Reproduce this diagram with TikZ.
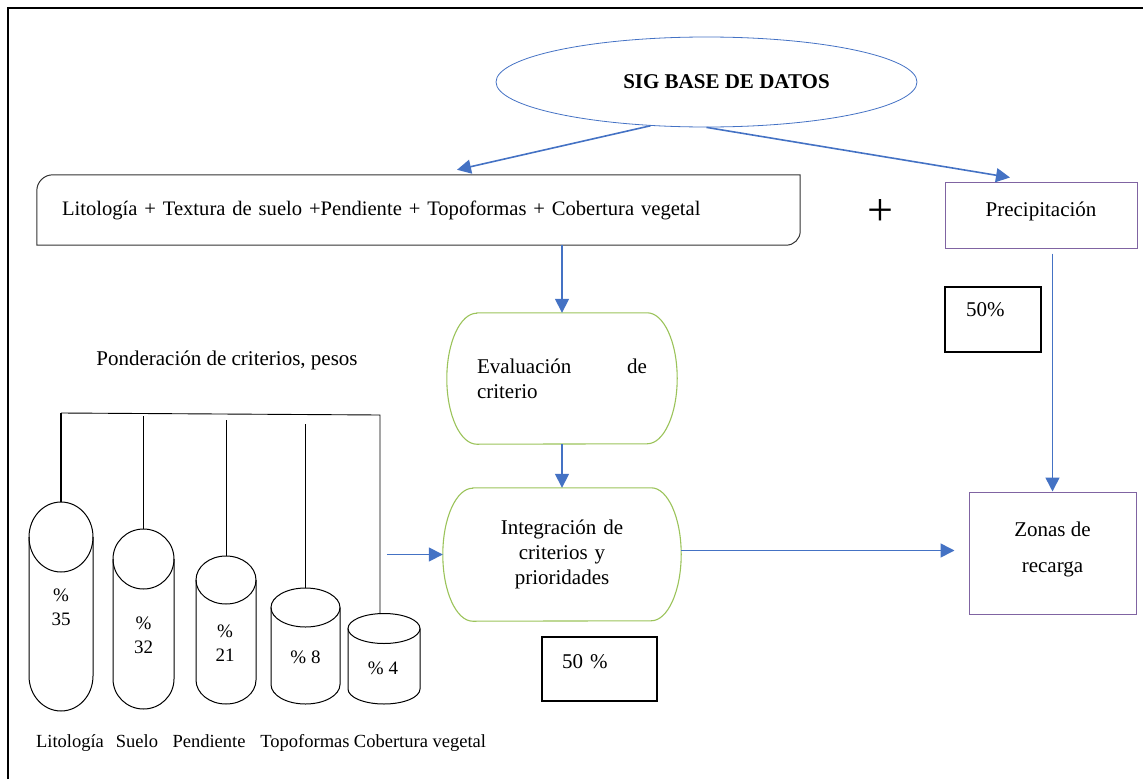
\documentclass[tikz,border=0pt]{standalone}
\usepackage{fontspec}
\setmainfont{Liberation Serif}
\usepackage{xcolor}
\usetikzlibrary{shapes.geometric,arrows.meta}
\definecolor{azul}{RGB}{68,114,196}
\definecolor{verde}{RGB}{155,195,90}
\definecolor{morado}{RGB}{128,100,162}
\definecolor{gris}{RGB}{50,50,50}

\begin{document}
\begin{tikzpicture}[x=1pt,y=-1pt,
  font=\fontsize{21}{25}\selectfont,
  every node/.style={inner sep=0pt},
  flecha/.style={azul,line width=1.6pt,-{Triangle[length=14pt,width=14pt]}},
  caja/.style={draw=morado,line width=1pt,align=center},
  cuadro/.style={draw=black,line width=1.2pt,align=left,text width=54pt,inner xsep=21pt},
  term/.style={text width=170pt,inner xsep=30pt,align=justify,
    execute at begin node={\hyphenpenalty=10000\tolerance=10000}},
  verdeborde/.style={verde,line width=1.1pt},
  linea/.style={black,line width=0.9pt},
  cil/.style={black,line width=1pt},
  rotulo/.style={font=\fontsize{18.5}{22}\selectfont,anchor=base},
  pct/.style={font=\fontsize{19}{24}\selectfont,align=center}]
\useasboundingbox (0,0) rectangle (1143,779);
\draw [line width=2pt] (8,779) -- (8,8) -- (1143,8);

% base de datos y capas
\node [ellipse,draw=azul,line width=0.8pt,minimum width=421pt,minimum height=90pt] (sig) at (706.5,82) {\hspace*{40pt}\textbf{SIG BASE DE DATOS}};
\node [text width=713pt,inner xsep=25pt,minimum height=70pt,align=left,font=\fontsize{20.6}{25}\selectfont] (capas) at (418.5,210) {Litología + Textura de suelo +Pendiente + Topoformas + Cobertura vegetal};
\draw [gris,line width=1pt] (capas.south west) -- ([yshift=-16pt]capas.north west) arc [start angle=180,end angle=90,radius=16pt] -- (capas.north east) -- ([yshift=14pt]capas.south east) arc [start angle=0,end angle=-90,radius=14pt] -- cycle;
\node [font=\fontsize{46}{46}\selectfont] (mas) at (880,213) {+};
\node [caja,minimum width=192pt,minimum height=66pt,text depth=12pt] (precip) at (1041,215) {Precipitación};
\node [cuadro,minimum height=65pt,text depth=19pt] (p50a) at (993,319.5) {50\%};

% evaluacion e integracion
\node [term,minimum width=230pt,minimum height=131pt] (eval) at (562,378.5) {Evaluación de criterio};
\draw [verdeborde] ([xshift=30pt]eval.north west) -- ([xshift=-30pt]eval.north east) arc [start angle=90,end angle=-90,x radius=30pt,y radius=65.5pt] -- ([xshift=30pt]eval.south west) arc [start angle=270,end angle=90,x radius=30pt,y radius=65.5pt] -- cycle;
\node [term,align=center,minimum width=238pt,minimum height=133pt] (integ) at (562,554.5) {Integración de\\criterios y\\prioridades};
\draw [verdeborde] ([xshift=30pt]integ.north west) -- ([xshift=-30pt]integ.north east) arc [start angle=90,end angle=-90,x radius=30pt,y radius=66.5pt] -- ([xshift=30pt]integ.south west) arc [start angle=270,end angle=90,x radius=30pt,y radius=66.5pt] -- cycle;
\node [cuadro,text width=75pt,inner xsep=20pt,minimum height=64pt,text depth=14pt] (p50b) at (599.5,669) {50 \%};
\node [caja,minimum width=167pt,minimum height=122pt,text depth=12pt] (zonas) at (1052.5,553) {Zonas de\\[11pt]recarga};

% flechas
\draw [flecha] (sig.218) -- ([xshift=38.5pt,yshift=5pt]capas.north);
\draw [flecha] (sig.south) -- ([xshift=-31pt,yshift=4pt]precip.north);
\draw [flecha] (capas.south -| eval.north) -- (eval.north);
\draw [flecha] (eval.south) -- (integ.north);
\draw [flecha] ([xshift=-56pt]integ.west) -- (integ.west);
\draw [flecha,shorten >=14pt] ([yshift=4pt]integ.east) -- ([yshift=4pt]integ.east -| zonas.west);
\draw [flecha,shorten <=5pt] (zonas.north |- precip.south) -- (zonas.north);

% pesos
\node (pond) at (227,360) {Ponderación de criterios, pesos};

% Litologia
\draw [cil] (29,537) -- (29,676) arc [start angle=180,end angle=360,x radius=32pt,y radius=35pt] -- (93,537);
\draw [cil] (61,537) ellipse [x radius=32pt,y radius=35pt];
\node [pct] (c35) at (61,607) {\%\\35};
\coordinate (cima1) at (61,502);
% Suelo
\draw [cil] (113,559) -- (113,679) arc [start angle=180,end angle=360,x radius=30.5pt,y radius=30pt] -- (174,559);
\draw [cil] (143.5,559) ellipse [x radius=30.5pt,y radius=30pt];
\node [pct] (c32) at (143.5,635) {\%\\32};
\coordinate (cima2) at (143.5,529);
% Pendiente
\draw [cil] (196,580) -- (196,680) arc [start angle=180,end angle=360,x radius=30pt,y radius=24pt] -- (256,580);
\draw [cil] (226,580) ellipse [x radius=30pt,y radius=24pt];
\node [pct] (c21) at (225,643) {\%\\21};
\coordinate (cima3) at (226,556);
% Topoformas
\draw [cil] (271,607.5) -- (271,684.5) arc [start angle=180,end angle=360,x radius=34.5pt,y radius=19.5pt] -- (340,607.5);
\draw [cil] (305.5,607.5) ellipse [x radius=34.5pt,y radius=19.5pt];
\node [pct] (c8) at (305.5,657) {\% 8};
\coordinate (cima4) at (305.5,588);
% Cobertura
\draw [cil] (348,628.5) -- (348,689) arc [start angle=180,end angle=360,x radius=36pt,y radius=15pt] -- (420,628.5);
\draw [cil] (384,628.5) ellipse [x radius=36pt,y radius=15pt];
\node [pct] (c4) at (383,668) {\% 4};
\coordinate (cima5) at (380,614);

% barra
\coordinate (barra1) at (61,413);
\coordinate (barra2) at (143.5,416);
\coordinate (barra3) at (226,420);
\coordinate (barra4) at (305.5,424);
\coordinate (barra5) at (380,415);
\draw [linea] (barra1) -- (barra5) -- (cima5);
\draw [linea,line width=1.6pt] (barra1) -- (cima1);
\draw [linea,line width=1.6pt] (barra2) -- (cima2);
\draw [linea] (barra3) -- (cima3);
\draw [linea,line width=1.6pt] (barra4) -- (cima4);

\node [rotulo] (nlit) at (70,747) {Litología};
\node [rotulo] (nsue) at (137,747) {Suelo};
\node [rotulo] (npen) at (209,747) {Pendiente};
\node [rotulo] (ntop) at (305,747) {Topoformas};
\node [rotulo] (ncob) at (420,747) {Cobertura vegetal};
\end{tikzpicture}
\end{document}
